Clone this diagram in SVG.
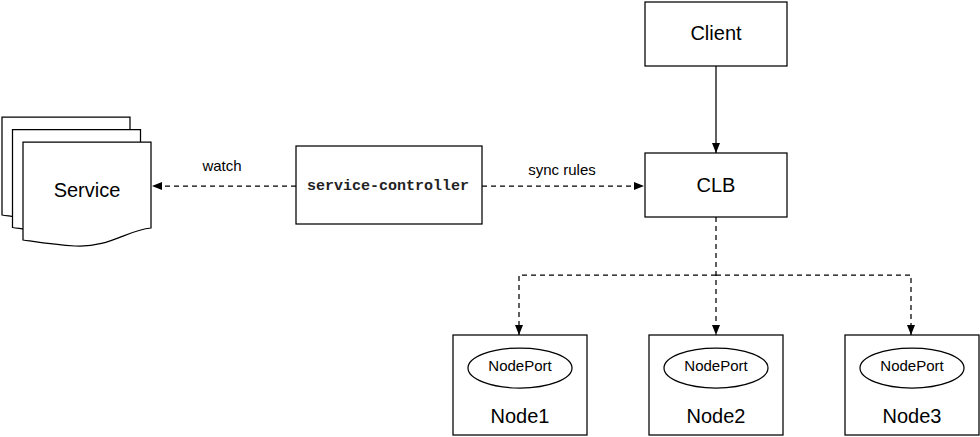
<svg xmlns="http://www.w3.org/2000/svg" width="980" height="437" viewBox="0 0 980 437">
<style>
.box{fill:#fff;stroke:#000;stroke-width:1.25}
.doc{fill:#fff;stroke:#000;stroke-width:1.25}
.lbl{font-family:"Liberation Sans",Arial,sans-serif;fill:#000;text-anchor:middle}
.big{font-size:20px}
.small{font-size:15px}
.mono{font-family:"Liberation Mono","Courier New",monospace;font-size:15px;font-weight:bold;fill:#222;text-anchor:middle}
.edge{fill:none;stroke:#000;stroke-width:1.25}
.dash{stroke-dasharray:5 4}
</style>
<defs>
<marker id="arr" viewBox="0 0 10 8" refX="10" refY="4" markerWidth="10" markerHeight="8" markerUnits="userSpaceOnUse" orient="auto">
<path d="M0,0 L10,4 L0,8 z" fill="#000"/>
</marker>
<path id="docshape" d="M0,0 H128 V86 C104,88 86,106 52,104 C32,103 14,100 0,98 Z"/>
</defs>
<rect width="980" height="437" fill="#fff"/>

<g id="service">
<use href="#docshape" class="doc" transform="translate(2,117)"/>
<use href="#docshape" class="doc" transform="translate(12.5,129.5)"/>
<use href="#docshape" class="doc" transform="translate(23,142)"/>
<text class="lbl big" x="87" y="197">Service</text>
</g>

<g id="service-controller">
<rect class="box" x="296" y="146" width="186" height="78"/>
<text class="mono" x="388" y="190">service-controller</text>
</g>

<g id="client">
<rect class="box" x="645" y="2" width="142" height="64"/>
<text class="lbl big" x="716" y="40">Client</text>
</g>

<g id="clb">
<rect class="box" x="645" y="153" width="142" height="64"/>
<text class="lbl big" x="716" y="192">CLB</text>
</g>

<g id="node1">
<rect class="box" x="453" y="335" width="134" height="100"/>
<ellipse class="box" cx="520" cy="368" rx="52" ry="20"/>
<text class="lbl small" x="520" y="371">NodePort</text>
<text class="lbl big" x="520" y="423">Node1</text>
</g>

<g id="node2">
<rect class="box" x="649" y="335" width="134" height="100"/>
<ellipse class="box" cx="716" cy="368" rx="52" ry="20"/>
<text class="lbl small" x="716" y="371">NodePort</text>
<text class="lbl big" x="716" y="423">Node2</text>
</g>

<g id="node3">
<rect class="box" x="845" y="335" width="134" height="100"/>
<ellipse class="box" cx="912" cy="368" rx="52" ry="20"/>
<text class="lbl small" x="912" y="371">NodePort</text>
<text class="lbl big" x="912" y="423">Node3</text>
</g>

<g id="connectors">
<path class="edge dash" d="M296,186 H152" marker-end="url(#arr)"/>
<text class="lbl small" x="222" y="171">watch</text>
<path class="edge dash" d="M482,186 H644" marker-end="url(#arr)"/>
<text class="lbl small" x="562" y="175">sync rules</text>
<path class="edge" d="M716,66 V153" marker-end="url(#arr)"/>
<path class="edge dash" d="M716,217 V335" marker-end="url(#arr)"/>
<path class="edge dash" d="M716,275 H519 V335" marker-end="url(#arr)"/>
<path class="edge dash" d="M716,275 H911 V335" marker-end="url(#arr)"/>
</g>
</svg>
